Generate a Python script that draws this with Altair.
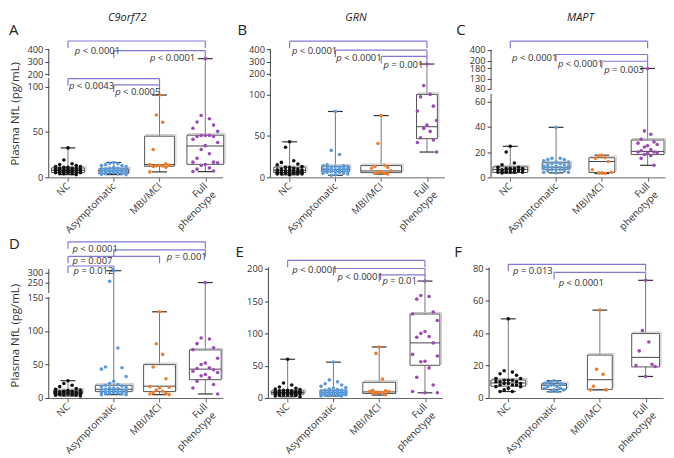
import altair as alt
import pandas as pd

GROUPS = ["NC", "Asymptomatic", "MBI/MCI", "Full phenotype"]
COLORS = ["#111111", "#5b9bd8", "#ef7d2d", "#9a4cb4"]
BRACKET_COLOR = "#8178d6"
YTITLE = "Plasma NfL (pg/mL)"

# ---------------- Panel A : C9orf72 ----------------
A_NC = [32.4, 19, 15, 14, 13, 12, 12, 11, 11, 10, 10, 10, 9, 9, 9, 9, 8, 8, 8, 8, 8, 7, 7, 7, 7, 7, 7, 6, 6, 6, 6, 6, 5, 5, 5, 5, 4, 4, 4, 3]
A_ASY = [16.4, 15.5, 15, 14, 13, 13, 12, 11, 10, 10, 9, 9, 9, 8, 8, 8, 8, 7, 7, 7, 7, 6, 6, 6, 6, 6, 5, 5, 5, 5, 4, 4, 4, 3.5, 3]
A_MBI = [90.6, 68.6, 60.6, 30.7, 15, 14, 13.5, 13, 12.8, 12.5, 12, 11, 6]
A_FULL = [325, 68, 64.5, 61, 57.5, 54, 50.6, 46, 46, 46, 45, 45, 41.8, 38.3, 34.9, 30.7, 26, 21, 16.7, 16.7, 16, 14, 13, 10.4, 9, 7, 6.3]
A_Q1 = [5.2, 4.2, 12.2, 14.3]
A_MED = [7.7, 7.0, 14.0, 34.5]
A_Q3 = [10.4, 9.4, 45.3, 46.4]
A_LO = [3, 3, 6, 6.3]
A_HI = [32.4, 16.4, 90.6, 325]
A_BOXW = [33, 30, 30, 37]
A_YDOM = [0, 100, 200, 400]
A_YPX = [176.7, 81, 68.3, 41.7]
A_TICKS = [0, 50, 100, 200, 300, 400]
A_SEG_LO = [0, 186]
A_SEG_HI = [172, 400]
A_BR_FROM = [0, 1, 0, 1]
A_BR_TO = [3, 3, 2, 2]
A_BR_Y = [465, 388, 165, 113]
A_P_TEXT = ["< 0.0001", "< 0.0001", "< 0.0043", "< 0.0005"]
A_P_X = [0.15, 1.79, 0.02, 1.03]
A_P_Y = [388, 330, 100, 93.4]

# ---------------- Panel B : GRN ----------------
B_NC = [42.8, 36.3, 19.9, 18, 16, 15, 13, 12, 12, 11, 10, 10, 9, 9, 9, 8, 8, 8, 7, 7, 7, 7, 6, 6, 6, 6, 5, 5, 5, 5, 5, 4, 4, 4, 4, 3]
B_ASY = [79.4, 32.5, 27.5, 15, 14, 14, 13, 13, 12, 12, 11, 11, 10, 10, 9, 9, 9, 8, 8, 8, 7, 7, 7, 6, 6, 5, 5, 4, 3, 2.5]
B_MBI = [74.4, 40.8, 14.5, 13, 12, 11, 8, 7, 6, 5, 5, 4]
B_FULL = [280, 110.6, 100, 97, 85.8, 80, 68.6, 62.9, 59, 55.4, 47.7, 45, 42, 30.5]
B_Q1 = [5.7, 6.9, 5.7, 46.6]
B_MED = [8.5, 9.6, 7.7, 61]
B_Q3 = [12.2, 13.4, 14.2, 100]
B_LO = [3, 2.5, 3.9, 30.5]
B_HI = [42.8, 79.4, 74.4, 280]
B_BOXW = [32, 28, 41, 21]
B_YDOM = [0, 119, 175, 400]
B_YPX = [176.7, 72.7, 71, 41.7]
B_TICKS = [0, 50, 100, 200, 300, 400]
B_SEG_LO = [0, 175]
B_SEG_HI = [119, 400]
B_BR_FROM = [0, 1, 2]
B_BR_TO = [3, 3, 3]
B_BR_Y = [464.6, 392, 341.5]
B_P_TEXT = ["< 0.0001", "< 0.0001", "= 0.001"]
B_P_X = [0.05, 1.02, 2.05]
B_P_Y = [388, 328, 272]

# ---------------- Panel C : MAPT ----------------
C_NC = [24.5, 20, 11.3, 10, 8, 8, 7, 7, 7, 7, 6, 6, 6, 6, 6, 5, 5, 5, 5, 4, 4, 4, 4, 4, 3.5]
C_ASY = [39.5, 15, 15, 14, 14, 13, 12, 12, 11, 11, 10, 10, 9, 9, 9, 8, 8, 8, 7, 7, 7, 6, 6, 6, 5, 5, 4, 4, 3.5]
C_MBI = [17.5, 17, 15.5, 15, 12.5, 6, 4, 3.5, 3.5, 3]
C_FULL = [180, 36.7, 34, 30, 28, 27, 26, 25, 24, 22, 21, 20, 20, 19.5, 19, 18, 17, 15, 9.5]
C_Q1 = [3.8, 6.3, 3.8, 18]
C_MED = [6.3, 8, 12.5, 20.5]
C_Q3 = [8.3, 11.5, 15.5, 29.5]
C_LO = [3.5, 3.5, 3, 9.5]
C_HI = [24.5, 39.5, 17.5, 180]
C_BOXW = [35, 28, 26, 33]
C_YDOM = [0, 66, 78, 180, 200, 400]
C_YPX = [176.7, 88.7, 83.7, 62, 54, 42.3]
C_TICKS = [0, 20, 40, 60, 80, 130, 180, 200, 400]
C_SEG_LO = [0, 78]
C_SEG_HI = [66, 400]
C_BR_FROM = [0, 1, 2]
C_BR_TO = [3, 3, 3]
C_BR_Y = [554, 315, 199]
C_P_TEXT = ["< 0.0001", "< 0.0001", "= 0.003"]
C_P_X = [0.04, 1.04, 2.05]
C_P_Y = [256, 192, 170.6]

# ---------------- Panel D ----------------
D_NC = [25.8, 21.5, 19, 17, 14, 13, 12, 11, 10, 10, 9, 9, 9, 8, 8, 8, 7, 7, 7, 6, 6, 6, 5, 5, 5, 4, 4, 3]
D_ASY = [308, 256, 74.6, 46.3, 45, 43, 32, 25, 22, 20, 19, 18, 17, 16, 15, 15, 14, 13, 12, 12, 11, 11, 10, 10, 9, 9, 8, 8, 8, 7, 7, 6, 6, 5, 5]
D_MBI = [128.5, 80.8, 65, 46.3, 28.7, 17, 16, 15, 12, 10, 8, 7, 6, 5]
D_FULL = [250, 89.4, 88, 81, 75, 72, 59.3, 52, 50, 45, 44, 42, 40, 38, 35, 33, 30, 25, 20, 15, 6]
D_Q1 = [5.7, 9.5, 9.5, 27.3]
D_MED = [9, 13, 17.6, 43]
D_Q3 = [11.5, 19, 49.7, 71.7]
D_LO = [3, 5, 5, 6]
D_HI = [25.8, 308, 128.5, 250]
D_BOXW = [29, 37, 32, 32]
D_YDOM = [0, 150, 200, 300]
D_YPX = [402.3, 297.7, 293, 271.7]
D_TICKS = [0, 50, 100, 150, 250, 300]
D_SEG_LO = [0, 197]
D_SEG_HI = [151, 316]
D_BR_FROM = [0, 1, 0, 0]
D_BR_TO = [3, 3, 2, 1]
D_BR_Y = [449, 410, 378, 331]
D_P_TEXT = ["< 0.0001", "= 0.001", "= 0.007", "= 0.012"]
D_P_X = [0.1, 2.16, 0.1, 0.12]
D_P_Y = [412, 374, 355, 306]

# ---------------- Panel E ----------------
E_NC = [60, 23.3, 20, 17, 15, 14, 13, 12, 12, 11, 11, 10, 10, 10, 9, 9, 9, 8, 8, 8, 8, 7, 7, 7, 7, 6, 6, 6, 5, 5, 5, 4, 4, 3, 2]
E_ASY = [55.5, 28, 25, 22, 20, 18, 16, 15, 14, 13, 12, 12, 11, 11, 10, 10, 10, 9, 9, 9, 8, 8, 8, 8, 7, 7, 7, 7, 6, 6, 6, 6, 5, 5, 5, 5, 4, 4, 4, 3, 3]
E_MBI = [79, 69, 29.2, 12, 11, 10, 10, 9, 9, 8, 7, 5]
E_FULL = [181, 158.7, 157, 153, 133, 130, 120, 103, 100, 95, 94, 85.3, 67.5, 65, 57, 56, 46.6, 32.2, 20, 10, 8, 8]
E_Q1 = [5.9, 5, 6.9, 50.6]
E_MED = [8.4, 8.4, 9.4, 85.3]
E_Q3 = [10.9, 11.4, 24.3, 130]
E_LO = [2, 3, 4.5, 8]
E_HI = [60, 55.5, 79, 181]
E_BOXW = [33, 24, 33, 30]
E_YDOM = [0, 200]
E_YPX = [402.3, 268]
E_TICKS = [0, 50, 100, 150, 200]
E_SEG_LO = [0]
E_SEG_HI = [202]
E_BR_FROM = [0, 1, 2]
E_BR_TO = [3, 3, 3]
E_BR_Y = [213, 200.4, 190.6]
E_P_TEXT = ["< 0.0001", "< 0.0001", "= 0.01"]
E_P_X = [0.1, 1.09, 2.07]
E_P_Y = [198, 187, 181]

# ---------------- Panel F ----------------
F_NC = [48.9, 16.8, 16, 15, 14, 12, 12, 11, 11, 11, 10, 10, 10, 9, 9, 9, 8, 8, 8, 7, 7, 6, 5, 4, 4]
F_ASY = [10.7, 10, 10, 9.5, 9, 9, 8.5, 8, 8, 7, 7, 6, 6, 5, 5, 4, 4]
F_MBI = [54.3, 17.8, 14.6, 7.3, 5, 5]
F_FULL = [72.7, 41.6, 34.6, 29.1, 20.8, 20, 19.5, 13.3]
F_Q1 = [7.3, 5.3, 5.3, 19.2]
F_MED = [9.3, 7.9, 11.3, 25.1]
F_Q3 = [11.1, 8.9, 26.5, 39.8]
F_LO = [4, 3.8, 5, 13.3]
F_HI = [48.9, 10.7, 54.3, 72.7]
F_BOXW = [35, 25, 25, 28]
F_YDOM = [0, 80]
F_YPX = [402.3, 267.7]
F_TICKS = [0, 20, 40, 60, 80]
F_SEG_LO = [0]
F_SEG_HI = [80.6]
F_BR_FROM = [0, 1]
F_BR_TO = [3, 3]
F_BR_Y = [82.6, 77.6]
F_P_TEXT = ["= 0.013", "< 0.0001"]
F_P_X = [0.1, 1.1]
F_P_Y = [78.2, 71.3]

# ---------------- layout settings ----------------
X_DOMAIN = [-0.42, 3.38]
W = 175
STEP = W / (X_DOMAIN[1] - X_DOMAIN[0])
ROWS = {"top": (28.0, 176.7, 142), "bottom": (237.0, 402.3, 160)}
JIT = [0, -1, 1, -2, 2, -3, 3]
LABEL_EXPR = "datum.value == 3 ? ['Full', 'phenotype'] : ['NC', 'Asymptomatic', 'MBI/MCI'][datum.value]"


def points_df(groups_vals):
    rows = []
    for gi, vals in enumerate(groups_vals):
        spread = 0.09 if len(vals) >= 20 else 0.07
        for n, v in enumerate(sorted(vals, reverse=True)):
            rows.append({"g": GROUPS[gi], "x": gi + JIT[n % 7] * spread, "v": v})
    return pd.DataFrame(rows)


def box_df(q1, med, q3, lo, hi, bw):
    cap = 7.5 / STEP
    return pd.DataFrame({
        "c": list(range(4)),
        "l": [i - w / 2 / STEP for i, w in enumerate(bw)],
        "r": [i + w / 2 / STEP for i, w in enumerate(bw)],
        "cl": [i - cap for i in range(4)],
        "cr": [i + cap for i in range(4)],
        "q1": q1, "med": med, "q3": q3, "lo": lo, "hi": hi,
    })


def panel(letter, gene, row, ytitle, pts, q1, med, q3, lo, hi, bw, ydom, ypx, ticks,
          seg_lo, seg_hi, br_from, br_to, br_y, p_text, p_x, p_y, letter_xy, gene_xy):
    top, bot, H = ROWS[row]
    rng = [(v - top) * H / (bot - top) for v in ypx]
    ys = alt.Scale(domain=ydom, range=rng, nice=False, zero=False)
    xs = alt.Scale(domain=X_DOMAIN, nice=False, zero=False)

    ykw = dict(values=ticks, domain=False, tickSize=4, tickColor="#444", labelFontSize=9.3,
               labelColor="#333", labelPadding=2, grid=False, titleFontSize=11.5, labelOverlap=False,
               titleFontWeight="normal", titleColor="#333", titlePadding=6)
    ykw["title"] = YTITLE if ytitle else None
    ya = alt.Axis(**ykw)
    xa = alt.Axis(values=[0, 1, 2, 3], labelExpr=LABEL_EXPR, labelAngle=315, labelAlign="right",
                  labelBaseline="middle", labelFontSize=10, labelColor="#333", tickSize=4,
                  labelOverlap=False, labelBound=False,
                  tickColor="#666", domainColor="#666", grid=False, title=None, labelPadding=3)

    def X(f):
        return alt.X(f, scale=xs, axis=xa)

    def Y(f):
        return alt.Y(f, scale=ys, axis=ya)

    seg = alt.Chart(pd.DataFrame({"lo": seg_lo, "hi": seg_hi})).mark_rule(color="#444", strokeWidth=1).encode(
        x=alt.value(0), y=Y("lo:Q"), y2="hi:Q")

    bb = alt.Chart(box_df(q1, med, q3, lo, hi, bw))
    whisk_hi = bb.mark_rule(color="#777", strokeWidth=1).encode(x=X("c:Q"), y=Y("q3:Q"), y2="hi:Q")
    whisk_lo = bb.mark_rule(color="#777", strokeWidth=1).encode(x=X("c:Q"), y=Y("lo:Q"), y2="q1:Q")
    cap_hi = bb.mark_rule(color="#333", strokeWidth=1.2).encode(x=X("cl:Q"), x2="cr:Q", y=Y("hi:Q"))
    cap_lo = bb.mark_rule(color="#333", strokeWidth=1.2).encode(x=X("cl:Q"), x2="cr:Q", y=Y("lo:Q"))
    shadow = bb.mark_rect(fillOpacity=0, stroke="#c4c4c4", strokeWidth=1, xOffset=1.5, x2Offset=1.5,
                          yOffset=-1.5, y2Offset=-1.5).encode(x=X("l:Q"), x2="r:Q", y=Y("q1:Q"), y2="q3:Q")
    box = bb.mark_rect(fill="white", stroke="#555", strokeWidth=1).encode(
        x=X("l:Q"), x2="r:Q", y=Y("q1:Q"), y2="q3:Q")
    median = bb.mark_rule(color="#444", strokeWidth=1).encode(x=X("l:Q"), x2="r:Q", y=Y("med:Q"))

    points = alt.Chart(points_df(pts)).mark_circle(size=13, opacity=1).encode(
        x=X("x:Q"), y=Y("v:Q"),
        color=alt.Color("g:N", scale=alt.Scale(domain=GROUPS, range=COLORS), legend=None))

    brd = pd.DataFrame({"f": br_from, "t": br_to, "y": br_y})
    brackets = alt.Chart(brd).mark_rule(color=BRACKET_COLOR, strokeWidth=1.2).encode(
        x=X("f:Q"), x2="t:Q", y=Y("y:Q"))
    ends = pd.DataFrame({"x": br_from + br_to, "y": br_y + br_y})
    bends = alt.Chart(ends).mark_rule(color=BRACKET_COLOR, strokeWidth=1.2, y2Offset=7).encode(
        x=X("x:Q"), y=Y("y:Q"), y2="y:Q")

    pl = pd.DataFrame({"x": p_x, "y": p_y, "t": p_text})
    p_it = alt.Chart(pl).mark_text(align="left", baseline="middle", fontStyle="italic", fontSize=9.5,
                                   color="#333").encode(x=X("x:Q"), y=Y("y:Q"), text=alt.value("p"))
    p_rest = alt.Chart(pl).mark_text(align="left", baseline="middle", fontSize=9.5, color="#333", dx=8).encode(
        x=X("x:Q"), y=Y("y:Q"), text="t:N")

    let = alt.Chart(pd.DataFrame({"t": [letter]})).mark_text(
        align="left", baseline="alphabetic", fontSize=15, color="#222").encode(
        x=alt.value(letter_xy[0]), y=alt.value(letter_xy[1]), text="t:N")
    layers = [seg, whisk_hi, whisk_lo, cap_hi, cap_lo, shadow, box, median, points,
              brackets, bends, p_it, p_rest, let]
    if gene:
        gt = alt.Chart(pd.DataFrame({"t": [gene]})).mark_text(
            align="center", baseline="alphabetic", fontSize=11, fontStyle="italic", color="#222").encode(
            x=alt.value(gene_xy[0]), y=alt.value(gene_xy[1]), text="t:N")
        layers.append(gt)
    return alt.layer(*layers).properties(width=W, height=H)


pA = panel("A", "C9orf72", "top", True, [A_NC, A_ASY, A_MBI, A_FULL], A_Q1, A_MED, A_Q3, A_LO, A_HI, A_BOXW,
           A_YDOM, A_YPX, A_TICKS, A_SEG_LO, A_SEG_HI, A_BR_FROM, A_BR_TO, A_BR_Y, A_P_TEXT, A_P_X, A_P_Y,
           (-40, -1), (79, -15))
pB = panel("B", "GRN", "top", False, [B_NC, B_ASY, B_MBI, B_FULL], B_Q1, B_MED, B_Q3, B_LO, B_HI, B_BOXW,
           B_YDOM, B_YPX, B_TICKS, B_SEG_LO, B_SEG_HI, B_BR_FROM, B_BR_TO, B_BR_Y, B_P_TEXT, B_P_X, B_P_Y,
           (-33, -1), (86, -15))
pC = panel("C", "MAPT", "top", False, [C_NC, C_ASY, C_MBI, C_FULL], C_Q1, C_MED, C_Q3, C_LO, C_HI, C_BOXW,
           C_YDOM, C_YPX, C_TICKS, C_SEG_LO, C_SEG_HI, C_BR_FROM, C_BR_TO, C_BR_Y, C_P_TEXT, C_P_X, C_P_Y,
           (-35, -1), (90, -15))
pD = panel("D", "", "bottom", True, [D_NC, D_ASY, D_MBI, D_FULL], D_Q1, D_MED, D_Q3, D_LO, D_HI, D_BOXW,
           D_YDOM, D_YPX, D_TICKS, D_SEG_LO, D_SEG_HI, D_BR_FROM, D_BR_TO, D_BR_Y, D_P_TEXT, D_P_X, D_P_Y,
           (-40, 10), (0, 0))
pE = panel("E", "", "bottom", False, [E_NC, E_ASY, E_MBI, E_FULL], E_Q1, E_MED, E_Q3, E_LO, E_HI, E_BOXW,
           E_YDOM, E_YPX, E_TICKS, E_SEG_LO, E_SEG_HI, E_BR_FROM, E_BR_TO, E_BR_Y, E_P_TEXT, E_P_X, E_P_Y,
           (-33, 18), (0, 0))
pF = panel("F", "", "bottom", False, [F_NC, F_ASY, F_MBI, F_FULL], F_Q1, F_MED, F_Q3, F_LO, F_HI, F_BOXW,
           F_YDOM, F_YPX, F_TICKS, F_SEG_LO, F_SEG_HI, F_BR_FROM, F_BR_TO, F_BR_Y, F_P_TEXT, F_P_X, F_P_Y,
           (-35, 18), (0, 0))

top = alt.hconcat(pA, pB, pC, spacing=12)
bottom = alt.hconcat(pD, pE, pF, spacing=12)
chart = alt.vconcat(top, bottom, spacing=2).properties(
    padding={"top": 3, "left": 1, "right": 0, "bottom": 0}).configure(
    font="Open Sans").configure_view(stroke=None)

chart.save("out.html", embed_options={"renderer": "svg", "actions": False})
